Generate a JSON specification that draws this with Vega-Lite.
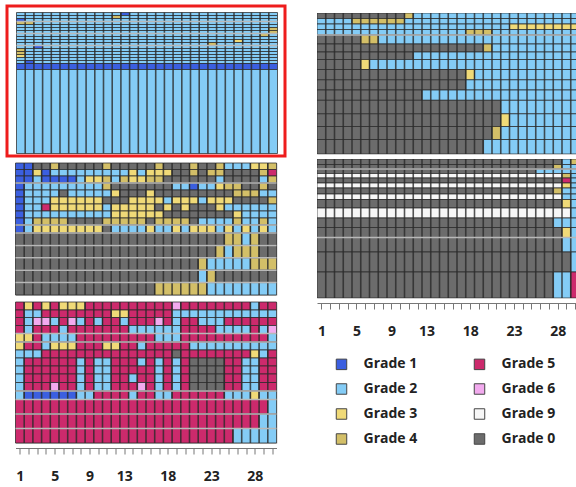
{
  "$schema": "https://vega.github.io/schema/vega-lite/v6.json",
  "background": "white",
  "padding": {"left": 5, "top": 4, "right": 0, "bottom": 0},
  "spacing": 29,
  "datasets": {
    "A": [
      {"y0":0,"y1":3,"x0":0,"x1":12,"g":2},{"y0":0,"y1":3,"x0":12,"x1":13,"g":1},{"y0":0,"y1":3,"x0":13,"x1":30,"g":2},
      {"y0":3,"y1":6,"x0":0,"x1":11,"g":2},{"y0":3,"y1":6,"x0":11,"x1":12,"g":4},{"y0":3,"y1":6,"x0":12,"x1":30,"g":2},
      {"y0":6,"y1":9,"x0":0,"x1":1,"g":1},{"y0":6,"y1":9,"x0":1,"x1":30,"g":2},
      {"y0":9,"y1":12,"x0":0,"x1":2,"g":4},{"y0":9,"y1":12,"x0":2,"x1":30,"g":2},
      {"y0":12,"y1":15,"x0":0,"x1":30,"g":2},
      {"y0":15,"y1":18,"x0":0,"x1":29,"g":2},{"y0":15,"y1":18,"x0":29,"x1":30,"g":4},
      {"y0":18,"y1":21,"x0":0,"x1":29,"g":2},{"y0":18,"y1":21,"x0":29,"x1":30,"g":4},
      {"y0":21,"y1":24,"x0":0,"x1":28,"g":2},{"y0":21,"y1":24,"x0":28,"x1":29,"g":4},{"y0":21,"y1":24,"x0":29,"x1":30,"g":2},
      {"y0":24,"y1":27,"x0":0,"x1":30,"g":2},
      {"y0":27,"y1":30,"x0":0,"x1":25,"g":2},{"y0":27,"y1":30,"x0":25,"x1":26,"g":3},{"y0":27,"y1":30,"x0":26,"x1":30,"g":2},
      {"y0":30,"y1":33,"x0":0,"x1":22,"g":2},{"y0":30,"y1":33,"x0":22,"x1":23,"g":4},{"y0":30,"y1":33,"x0":23,"x1":30,"g":2},
      {"y0":33,"y1":36,"x0":0,"x1":2,"g":2},{"y0":33,"y1":36,"x0":2,"x1":3,"g":1},{"y0":33,"y1":36,"x0":3,"x1":30,"g":2},
      {"y0":36,"y1":39,"x0":0,"x1":1,"g":4},{"y0":36,"y1":39,"x0":1,"x1":30,"g":2},
      {"y0":39,"y1":42,"x0":0,"x1":1,"g":4},{"y0":39,"y1":42,"x0":1,"x1":30,"g":2},
      {"y0":42,"y1":45,"x0":0,"x1":1,"g":3},{"y0":42,"y1":45,"x0":1,"x1":30,"g":2},
      {"y0":45,"y1":48,"x0":0,"x1":30,"g":2},
      {"y0":48,"y1":51,"x0":0,"x1":1,"g":2},{"y0":48,"y1":51,"x0":1,"x1":2,"g":1},{"y0":48,"y1":51,"x0":2,"x1":30,"g":2},
      {"y0":51,"y1":57,"x0":0,"x1":30,"g":1},
      {"y0":57,"y1":141,"x0":0,"x1":30,"g":2}
    ],
    "B": [
      {"y0":0,"y1":6.5,"x0":0,"x1":2,"g":1},{"y0":0,"y1":6.5,"x0":2,"x1":4,"g":0},{"y0":0,"y1":6.5,"x0":4,"x1":5,"g":4},{"y0":0,"y1":6.5,"x0":5,"x1":10,"g":0},{"y0":0,"y1":6.5,"x0":10,"x1":11,"g":4},{"y0":0,"y1":6.5,"x0":11,"x1":16,"g":0},{"y0":0,"y1":6.5,"x0":16,"x1":17,"g":4},{"y0":0,"y1":6.5,"x0":17,"x1":20,"g":0},{"y0":0,"y1":6.5,"x0":20,"x1":21,"g":4},{"y0":0,"y1":6.5,"x0":21,"x1":23,"g":0},{"y0":0,"y1":6.5,"x0":23,"x1":24,"g":4},{"y0":0,"y1":6.5,"x0":24,"x1":27,"g":2},{"y0":0,"y1":6.5,"x0":27,"x1":29,"g":3},{"y0":0,"y1":6.5,"x0":29,"x1":30,"g":4},
      {"y0":6.5,"y1":13,"x0":0,"x1":2,"g":1},{"y0":6.5,"y1":13,"x0":2,"x1":3,"g":3},{"y0":6.5,"y1":13,"x0":3,"x1":4,"g":1},{"y0":6.5,"y1":13,"x0":4,"x1":13,"g":2},{"y0":6.5,"y1":13,"x0":13,"x1":14,"g":3},{"y0":6.5,"y1":13,"x0":14,"x1":15,"g":2},{"y0":6.5,"y1":13,"x0":15,"x1":18,"g":3},{"y0":6.5,"y1":13,"x0":18,"x1":20,"g":0},{"y0":6.5,"y1":13,"x0":20,"x1":21,"g":4},{"y0":6.5,"y1":13,"x0":21,"x1":22,"g":0},{"y0":6.5,"y1":13,"x0":22,"x1":24,"g":4},{"y0":6.5,"y1":13,"x0":24,"x1":28,"g":0},{"y0":6.5,"y1":13,"x0":28,"x1":29,"g":4},{"y0":6.5,"y1":13,"x0":29,"x1":30,"g":5},
      {"y0":13,"y1":20,"x0":0,"x1":2,"g":1},{"y0":13,"y1":20,"x0":2,"x1":3,"g":2},{"y0":13,"y1":20,"x0":3,"x1":7,"g":1},{"y0":13,"y1":20,"x0":7,"x1":8,"g":2},{"y0":13,"y1":20,"x0":8,"x1":10,"g":3},{"y0":13,"y1":20,"x0":10,"x1":11,"g":4},{"y0":13,"y1":20,"x0":11,"x1":12,"g":2},{"y0":13,"y1":20,"x0":12,"x1":13,"g":4},{"y0":13,"y1":20,"x0":13,"x1":15,"g":3},{"y0":13,"y1":20,"x0":15,"x1":17,"g":4},{"y0":13,"y1":20,"x0":17,"x1":23,"g":0},{"y0":13,"y1":20,"x0":23,"x1":24,"g":2},{"y0":13,"y1":20,"x0":24,"x1":28,"g":0},{"y0":13,"y1":20,"x0":28,"x1":29,"g":2},{"y0":13,"y1":20,"x0":29,"x1":30,"g":4},
      {"y0":20,"y1":27,"x0":0,"x1":1,"g":1},{"y0":20,"y1":27,"x0":1,"x1":10,"g":2},{"y0":20,"y1":27,"x0":10,"x1":11,"g":4},{"y0":20,"y1":27,"x0":11,"x1":18,"g":0},{"y0":20,"y1":27,"x0":18,"x1":20,"g":2},{"y0":20,"y1":27,"x0":20,"x1":21,"g":1},{"y0":20,"y1":27,"x0":21,"x1":23,"g":2},{"y0":20,"y1":27,"x0":23,"x1":24,"g":3},{"y0":20,"y1":27,"x0":24,"x1":26,"g":4},{"y0":20,"y1":27,"x0":26,"x1":28,"g":0},{"y0":20,"y1":27,"x0":28,"x1":29,"g":4},{"y0":20,"y1":27,"x0":29,"x1":30,"g":0},
      {"y0":27,"y1":34,"x0":0,"x1":1,"g":1},{"y0":27,"y1":34,"x0":1,"x1":5,"g":2},{"y0":27,"y1":34,"x0":5,"x1":6,"g":0},{"y0":27,"y1":34,"x0":6,"x1":11,"g":2},{"y0":27,"y1":34,"x0":11,"x1":12,"g":3},{"y0":27,"y1":34,"x0":12,"x1":15,"g":0},{"y0":27,"y1":34,"x0":15,"x1":16,"g":3},{"y0":27,"y1":34,"x0":16,"x1":25,"g":0},{"y0":27,"y1":34,"x0":25,"x1":28,"g":4},{"y0":27,"y1":34,"x0":28,"x1":30,"g":2},
      {"y0":34,"y1":41,"x0":0,"x1":1,"g":1},{"y0":34,"y1":41,"x0":1,"x1":4,"g":2},{"y0":34,"y1":41,"x0":4,"x1":10,"g":3},{"y0":34,"y1":41,"x0":10,"x1":13,"g":0},{"y0":34,"y1":41,"x0":13,"x1":17,"g":3},{"y0":34,"y1":41,"x0":17,"x1":18,"g":2},{"y0":34,"y1":41,"x0":18,"x1":21,"g":3},{"y0":34,"y1":41,"x0":21,"x1":22,"g":2},{"y0":34,"y1":41,"x0":22,"x1":25,"g":3},{"y0":34,"y1":41,"x0":25,"x1":29,"g":0},{"y0":34,"y1":41,"x0":29,"x1":30,"g":4},
      {"y0":41,"y1":48,"x0":0,"x1":1,"g":1},{"y0":41,"y1":48,"x0":1,"x1":3,"g":2},{"y0":41,"y1":48,"x0":3,"x1":4,"g":5},{"y0":41,"y1":48,"x0":4,"x1":10,"g":3},{"y0":41,"y1":48,"x0":10,"x1":11,"g":2},{"y0":41,"y1":48,"x0":11,"x1":16,"g":3},{"y0":41,"y1":48,"x0":16,"x1":17,"g":0},{"y0":41,"y1":48,"x0":17,"x1":18,"g":3},{"y0":41,"y1":48,"x0":18,"x1":19,"g":0},{"y0":41,"y1":48,"x0":19,"x1":20,"g":3},{"y0":41,"y1":48,"x0":20,"x1":23,"g":0},{"y0":41,"y1":48,"x0":23,"x1":24,"g":3},{"y0":41,"y1":48,"x0":24,"x1":30,"g":2},
      {"y0":48,"y1":55,"x0":0,"x1":1,"g":1},{"y0":48,"y1":55,"x0":1,"x1":11,"g":2},{"y0":48,"y1":55,"x0":11,"x1":17,"g":3},{"y0":48,"y1":55,"x0":17,"x1":25,"g":0},{"y0":48,"y1":55,"x0":25,"x1":26,"g":3},{"y0":48,"y1":55,"x0":26,"x1":30,"g":2},
      {"y0":55,"y1":62,"x0":0,"x1":1,"g":1},{"y0":55,"y1":62,"x0":1,"x1":2,"g":2},{"y0":55,"y1":62,"x0":2,"x1":6,"g":4},{"y0":55,"y1":62,"x0":6,"x1":10,"g":0},{"y0":55,"y1":62,"x0":10,"x1":15,"g":4},{"y0":55,"y1":62,"x0":15,"x1":16,"g":0},{"y0":55,"y1":62,"x0":16,"x1":20,"g":4},{"y0":55,"y1":62,"x0":20,"x1":21,"g":0},{"y0":55,"y1":62,"x0":21,"x1":25,"g":2},{"y0":55,"y1":62,"x0":25,"x1":26,"g":4},{"y0":55,"y1":62,"x0":26,"x1":28,"g":2},{"y0":55,"y1":62,"x0":28,"x1":29,"g":4},{"y0":55,"y1":62,"x0":29,"x1":30,"g":2},
      {"y0":62,"y1":70,"x0":0,"x1":1,"g":1},{"y0":62,"y1":70,"x0":1,"x1":2,"g":2},{"y0":62,"y1":70,"x0":2,"x1":10,"g":3},{"y0":62,"y1":70,"x0":10,"x1":11,"g":0},{"y0":62,"y1":70,"x0":11,"x1":15,"g":2},{"y0":62,"y1":70,"x0":15,"x1":16,"g":3},{"y0":62,"y1":70,"x0":16,"x1":18,"g":2},{"y0":62,"y1":70,"x0":18,"x1":19,"g":3},{"y0":62,"y1":70,"x0":19,"x1":20,"g":2},{"y0":62,"y1":70,"x0":20,"x1":23,"g":3},{"y0":62,"y1":70,"x0":23,"x1":24,"g":2},{"y0":62,"y1":70,"x0":24,"x1":25,"g":3},{"y0":62,"y1":70,"x0":25,"x1":26,"g":2},{"y0":62,"y1":70,"x0":26,"x1":27,"g":3},{"y0":62,"y1":70,"x0":27,"x1":28,"g":2},{"y0":62,"y1":70,"x0":28,"x1":29,"g":3},{"y0":62,"y1":70,"x0":29,"x1":30,"g":2},
      {"y0":70,"y1":82.4,"x0":0,"x1":24,"g":0},{"y0":70,"y1":82.4,"x0":24,"x1":26,"g":4},{"y0":70,"y1":82.4,"x0":26,"x1":27,"g":2},{"y0":70,"y1":82.4,"x0":27,"x1":28,"g":4},{"y0":70,"y1":82.4,"x0":28,"x1":30,"g":0},
      {"y0":82.4,"y1":94.8,"x0":0,"x1":23,"g":0},{"y0":82.4,"y1":94.8,"x0":23,"x1":24,"g":4},{"y0":82.4,"y1":94.8,"x0":24,"x1":25,"g":2},{"y0":82.4,"y1":94.8,"x0":25,"x1":28,"g":4},{"y0":82.4,"y1":94.8,"x0":28,"x1":30,"g":0},
      {"y0":94.8,"y1":107.2,"x0":0,"x1":21,"g":0},{"y0":94.8,"y1":107.2,"x0":21,"x1":22,"g":4},{"y0":94.8,"y1":107.2,"x0":22,"x1":27,"g":2},{"y0":94.8,"y1":107.2,"x0":27,"x1":30,"g":4},
      {"y0":107.2,"y1":119.6,"x0":0,"x1":21,"g":0},{"y0":107.2,"y1":119.6,"x0":21,"x1":22,"g":2},{"y0":107.2,"y1":119.6,"x0":22,"x1":23,"g":4},{"y0":107.2,"y1":119.6,"x0":23,"x1":30,"g":0},
      {"y0":119.6,"y1":132,"x0":0,"x1":16,"g":0},{"y0":119.6,"y1":132,"x0":16,"x1":22,"g":4},{"y0":119.6,"y1":132,"x0":22,"x1":30,"g":2}
    ],
    "C": [
      {"y0":0,"y1":8,"x0":0,"x1":1,"g":5},{"y0":0,"y1":8,"x0":1,"x1":2,"g":3},{"y0":0,"y1":8,"x0":2,"x1":3,"g":5},{"y0":0,"y1":8,"x0":3,"x1":4,"g":3},{"y0":0,"y1":8,"x0":4,"x1":5,"g":5},{"y0":0,"y1":8,"x0":5,"x1":8,"g":3},{"y0":0,"y1":8,"x0":8,"x1":18,"g":5},{"y0":0,"y1":8,"x0":18,"x1":19,"g":6},{"y0":0,"y1":8,"x0":19,"x1":27,"g":5},{"y0":0,"y1":8,"x0":27,"x1":28,"g":2},{"y0":0,"y1":8,"x0":28,"x1":30,"g":5},
      {"y0":8,"y1":15.5,"x0":0,"x1":1,"g":5},{"y0":8,"y1":15.5,"x0":1,"x1":3,"g":2},{"y0":8,"y1":15.5,"x0":3,"x1":11,"g":5},{"y0":8,"y1":15.5,"x0":11,"x1":13,"g":3},{"y0":8,"y1":15.5,"x0":13,"x1":18,"g":5},{"y0":8,"y1":15.5,"x0":18,"x1":30,"g":2},
      {"y0":15.5,"y1":23.5,"x0":0,"x1":1,"g":5},{"y0":15.5,"y1":23.5,"x0":1,"x1":2,"g":2},{"y0":15.5,"y1":23.5,"x0":2,"x1":4,"g":6},{"y0":15.5,"y1":23.5,"x0":4,"x1":5,"g":2},{"y0":15.5,"y1":23.5,"x0":5,"x1":6,"g":5},{"y0":15.5,"y1":23.5,"x0":6,"x1":7,"g":6},{"y0":15.5,"y1":23.5,"x0":7,"x1":8,"g":2},{"y0":15.5,"y1":23.5,"x0":8,"x1":9,"g":5},{"y0":15.5,"y1":23.5,"x0":9,"x1":10,"g":2},{"y0":15.5,"y1":23.5,"x0":10,"x1":12,"g":5},{"y0":15.5,"y1":23.5,"x0":12,"x1":13,"g":2},{"y0":15.5,"y1":23.5,"x0":13,"x1":16,"g":5},{"y0":15.5,"y1":23.5,"x0":16,"x1":17,"g":6},{"y0":15.5,"y1":23.5,"x0":17,"x1":18,"g":5},{"y0":15.5,"y1":23.5,"x0":18,"x1":19,"g":2},{"y0":15.5,"y1":23.5,"x0":19,"x1":21,"g":5},{"y0":15.5,"y1":23.5,"x0":21,"x1":24,"g":2},{"y0":15.5,"y1":23.5,"x0":24,"x1":30,"g":5},
      {"y0":23.5,"y1":31.5,"x0":0,"x1":1,"g":5},{"y0":23.5,"y1":31.5,"x0":1,"x1":2,"g":2},{"y0":23.5,"y1":31.5,"x0":2,"x1":5,"g":5},{"y0":23.5,"y1":31.5,"x0":5,"x1":6,"g":2},{"y0":23.5,"y1":31.5,"x0":6,"x1":13,"g":5},{"y0":23.5,"y1":31.5,"x0":13,"x1":19,"g":2},{"y0":23.5,"y1":31.5,"x0":19,"x1":23,"g":5},{"y0":23.5,"y1":31.5,"x0":23,"x1":27,"g":2},{"y0":23.5,"y1":31.5,"x0":27,"x1":28,"g":5},{"y0":23.5,"y1":31.5,"x0":28,"x1":29,"g":2},{"y0":23.5,"y1":31.5,"x0":29,"x1":30,"g":6},
      {"y0":31.5,"y1":40,"x0":0,"x1":2,"g":3},{"y0":31.5,"y1":40,"x0":2,"x1":3,"g":5},{"y0":31.5,"y1":40,"x0":3,"x1":7,"g":2},{"y0":31.5,"y1":40,"x0":7,"x1":16,"g":5},{"y0":31.5,"y1":40,"x0":16,"x1":19,"g":2},{"y0":31.5,"y1":40,"x0":19,"x1":29,"g":5},{"y0":31.5,"y1":40,"x0":29,"x1":30,"g":2},
      {"y0":40,"y1":48,"x0":0,"x1":1,"g":3},{"y0":40,"y1":48,"x0":1,"x1":3,"g":5},{"y0":40,"y1":48,"x0":3,"x1":4,"g":2},{"y0":40,"y1":48,"x0":4,"x1":7,"g":3},{"y0":40,"y1":48,"x0":7,"x1":10,"g":5},{"y0":40,"y1":48,"x0":10,"x1":12,"g":3},{"y0":40,"y1":48,"x0":12,"x1":14,"g":5},{"y0":40,"y1":48,"x0":14,"x1":15,"g":2},{"y0":40,"y1":48,"x0":15,"x1":20,"g":5},{"y0":40,"y1":48,"x0":20,"x1":30,"g":2},
      {"y0":48,"y1":56,"x0":0,"x1":3,"g":2},{"y0":48,"y1":56,"x0":3,"x1":18,"g":5},{"y0":48,"y1":56,"x0":18,"x1":19,"g":0},{"y0":48,"y1":56,"x0":19,"x1":27,"g":5},{"y0":48,"y1":56,"x0":27,"x1":28,"g":3},{"y0":48,"y1":56,"x0":28,"x1":29,"g":2},{"y0":48,"y1":56,"x0":29,"x1":30,"g":5},
      {"y0":56,"y1":64,"x0":0,"x1":1,"g":2},{"y0":56,"y1":64,"x0":1,"x1":7,"g":5},{"y0":56,"y1":64,"x0":7,"x1":8,"g":2},{"y0":56,"y1":64,"x0":8,"x1":9,"g":5},{"y0":56,"y1":64,"x0":9,"x1":11,"g":2},{"y0":56,"y1":64,"x0":11,"x1":14,"g":5},{"y0":56,"y1":64,"x0":14,"x1":15,"g":2},{"y0":56,"y1":64,"x0":15,"x1":16,"g":5},{"y0":56,"y1":64,"x0":16,"x1":17,"g":2},{"y0":56,"y1":64,"x0":17,"x1":18,"g":5},{"y0":56,"y1":64,"x0":18,"x1":19,"g":2},{"y0":56,"y1":64,"x0":19,"x1":20,"g":5},{"y0":56,"y1":64,"x0":20,"x1":24,"g":0},{"y0":56,"y1":64,"x0":24,"x1":26,"g":5},{"y0":56,"y1":64,"x0":26,"x1":28,"g":2},{"y0":56,"y1":64,"x0":28,"x1":30,"g":5},
      {"y0":64,"y1":72,"x0":0,"x1":1,"g":2},{"y0":64,"y1":72,"x0":1,"x1":7,"g":5},{"y0":64,"y1":72,"x0":7,"x1":8,"g":2},{"y0":64,"y1":72,"x0":8,"x1":9,"g":5},{"y0":64,"y1":72,"x0":9,"x1":11,"g":2},{"y0":64,"y1":72,"x0":11,"x1":16,"g":5},{"y0":64,"y1":72,"x0":16,"x1":17,"g":2},{"y0":64,"y1":72,"x0":17,"x1":18,"g":5},{"y0":64,"y1":72,"x0":18,"x1":19,"g":2},{"y0":64,"y1":72,"x0":19,"x1":20,"g":5},{"y0":64,"y1":72,"x0":20,"x1":24,"g":0},{"y0":64,"y1":72,"x0":24,"x1":26,"g":5},{"y0":64,"y1":72,"x0":26,"x1":28,"g":2},{"y0":64,"y1":72,"x0":28,"x1":30,"g":5},
      {"y0":72,"y1":80.5,"x0":0,"x1":1,"g":2},{"y0":72,"y1":80.5,"x0":1,"x1":7,"g":5},{"y0":72,"y1":80.5,"x0":7,"x1":8,"g":2},{"y0":72,"y1":80.5,"x0":8,"x1":9,"g":5},{"y0":72,"y1":80.5,"x0":9,"x1":11,"g":2},{"y0":72,"y1":80.5,"x0":11,"x1":13,"g":5},{"y0":72,"y1":80.5,"x0":13,"x1":14,"g":2},{"y0":72,"y1":80.5,"x0":14,"x1":16,"g":5},{"y0":72,"y1":80.5,"x0":16,"x1":17,"g":2},{"y0":72,"y1":80.5,"x0":17,"x1":18,"g":5},{"y0":72,"y1":80.5,"x0":18,"x1":19,"g":2},{"y0":72,"y1":80.5,"x0":19,"x1":20,"g":5},{"y0":72,"y1":80.5,"x0":20,"x1":24,"g":0},{"y0":72,"y1":80.5,"x0":24,"x1":26,"g":5},{"y0":72,"y1":80.5,"x0":26,"x1":28,"g":2},{"y0":72,"y1":80.5,"x0":28,"x1":30,"g":5},
      {"y0":80.5,"y1":89,"x0":0,"x1":1,"g":2},{"y0":80.5,"y1":89,"x0":1,"x1":4,"g":5},{"y0":80.5,"y1":89,"x0":4,"x1":5,"g":6},{"y0":80.5,"y1":89,"x0":5,"x1":7,"g":5},{"y0":80.5,"y1":89,"x0":7,"x1":8,"g":2},{"y0":80.5,"y1":89,"x0":8,"x1":9,"g":5},{"y0":80.5,"y1":89,"x0":9,"x1":11,"g":2},{"y0":80.5,"y1":89,"x0":11,"x1":14,"g":5},{"y0":80.5,"y1":89,"x0":14,"x1":15,"g":6},{"y0":80.5,"y1":89,"x0":15,"x1":16,"g":5},{"y0":80.5,"y1":89,"x0":16,"x1":17,"g":2},{"y0":80.5,"y1":89,"x0":17,"x1":18,"g":5},{"y0":80.5,"y1":89,"x0":18,"x1":19,"g":2},{"y0":80.5,"y1":89,"x0":19,"x1":20,"g":5},{"y0":80.5,"y1":89,"x0":20,"x1":24,"g":0},{"y0":80.5,"y1":89,"x0":24,"x1":26,"g":5},{"y0":80.5,"y1":89,"x0":26,"x1":28,"g":2},{"y0":80.5,"y1":89,"x0":28,"x1":30,"g":5},
      {"y0":89,"y1":97.5,"x0":0,"x1":1,"g":2},{"y0":89,"y1":97.5,"x0":1,"x1":7,"g":1},{"y0":89,"y1":97.5,"x0":7,"x1":9,"g":2},{"y0":89,"y1":97.5,"x0":9,"x1":13,"g":5},{"y0":89,"y1":97.5,"x0":13,"x1":14,"g":2},{"y0":89,"y1":97.5,"x0":14,"x1":16,"g":5},{"y0":89,"y1":97.5,"x0":16,"x1":18,"g":2},{"y0":89,"y1":97.5,"x0":18,"x1":24,"g":5},{"y0":89,"y1":97.5,"x0":24,"x1":27,"g":2},{"y0":89,"y1":97.5,"x0":27,"x1":28,"g":3},{"y0":89,"y1":97.5,"x0":28,"x1":30,"g":2},
      {"y0":97.5,"y1":112,"x0":0,"x1":29,"g":5},{"y0":97.5,"y1":112,"x0":29,"x1":30,"g":2},
      {"y0":112,"y1":126.5,"x0":0,"x1":28,"g":5},{"y0":112,"y1":126.5,"x0":28,"x1":30,"g":2},
      {"y0":126.5,"y1":141,"x0":0,"x1":25,"g":5},{"y0":126.5,"y1":141,"x0":25,"x1":30,"g":2}
    ],
    "D": [
      {"y0":0,"y1":5.5,"x0":0,"x1":10,"g":0},{"y0":0,"y1":5.5,"x0":10,"x1":11,"g":4},{"y0":0,"y1":5.5,"x0":11,"x1":30,"g":2},
      {"y0":5.5,"y1":11,"x0":0,"x1":4,"g":2},{"y0":5.5,"y1":11,"x0":4,"x1":10,"g":4},{"y0":5.5,"y1":11,"x0":10,"x1":30,"g":2},
      {"y0":11,"y1":16.5,"x0":0,"x1":22,"g":2},{"y0":11,"y1":16.5,"x0":22,"x1":30,"g":3},
      {"y0":16.5,"y1":22,"x0":0,"x1":17,"g":2},{"y0":16.5,"y1":22,"x0":17,"x1":20,"g":4},{"y0":16.5,"y1":22,"x0":20,"x1":30,"g":2},
      {"y0":22,"y1":31,"x0":0,"x1":5,"g":0},{"y0":22,"y1":31,"x0":5,"x1":7,"g":4},{"y0":22,"y1":31,"x0":7,"x1":30,"g":2},
      {"y0":31,"y1":39,"x0":0,"x1":19,"g":0},{"y0":31,"y1":39,"x0":19,"x1":20,"g":4},{"y0":31,"y1":39,"x0":20,"x1":30,"g":2},
      {"y0":39,"y1":46.5,"x0":0,"x1":11,"g":0},{"y0":39,"y1":46.5,"x0":11,"x1":30,"g":2},
      {"y0":46.5,"y1":56.5,"x0":0,"x1":5,"g":0},{"y0":46.5,"y1":56.5,"x0":5,"x1":6,"g":3},{"y0":46.5,"y1":56.5,"x0":6,"x1":30,"g":2},
      {"y0":56.5,"y1":66.8,"x0":0,"x1":17,"g":0},{"y0":56.5,"y1":66.8,"x0":17,"x1":18,"g":3},{"y0":56.5,"y1":66.8,"x0":18,"x1":30,"g":2},
      {"y0":66.8,"y1":77,"x0":0,"x1":17,"g":0},{"y0":66.8,"y1":77,"x0":17,"x1":30,"g":2},
      {"y0":77,"y1":87.3,"x0":0,"x1":12,"g":0},{"y0":77,"y1":87.3,"x0":12,"x1":30,"g":2},
      {"y0":87.3,"y1":100.8,"x0":0,"x1":21,"g":0},{"y0":87.3,"y1":100.8,"x0":21,"x1":30,"g":2},
      {"y0":100.8,"y1":113.5,"x0":0,"x1":21,"g":0},{"y0":100.8,"y1":113.5,"x0":21,"x1":22,"g":3},{"y0":100.8,"y1":113.5,"x0":22,"x1":30,"g":2},
      {"y0":113.5,"y1":126.5,"x0":0,"x1":20,"g":0},{"y0":113.5,"y1":126.5,"x0":20,"x1":21,"g":4},{"y0":113.5,"y1":126.5,"x0":21,"x1":30,"g":2},
      {"y0":126.5,"y1":141,"x0":0,"x1":19,"g":0},{"y0":126.5,"y1":141,"x0":19,"x1":30,"g":2}
    ],
    "E": [
      {"y0":0,"y1":5.5,"x0":0,"x1":28,"g":0},{"y0":0,"y1":5.5,"x0":28,"x1":29,"g":2},{"y0":0,"y1":5.5,"x0":29,"x1":30,"g":4},
      {"y0":5.5,"y1":10,"x0":0,"x1":27,"g":0},{"y0":5.5,"y1":10,"x0":27,"x1":28,"g":4},{"y0":5.5,"y1":10,"x0":28,"x1":30,"g":2},
      {"y0":10,"y1":14.5,"x0":0,"x1":25,"g":0},{"y0":10,"y1":14.5,"x0":25,"x1":30,"g":2},
      {"y0":14.5,"y1":19,"x0":0,"x1":28,"g":9},{"y0":14.5,"y1":19,"x0":28,"x1":29,"g":4},{"y0":14.5,"y1":19,"x0":29,"x1":30,"g":2},
      {"y0":19,"y1":24,"x0":0,"x1":28,"g":0},{"y0":19,"y1":24,"x0":28,"x1":29,"g":5},{"y0":19,"y1":24,"x0":29,"x1":30,"g":2},
      {"y0":24,"y1":29,"x0":0,"x1":28,"g":9},{"y0":24,"y1":29,"x0":28,"x1":29,"g":3},{"y0":24,"y1":29,"x0":29,"x1":30,"g":2},
      {"y0":29,"y1":35,"x0":0,"x1":27,"g":0},{"y0":29,"y1":35,"x0":27,"x1":28,"g":4},{"y0":29,"y1":35,"x0":28,"x1":30,"g":2},
      {"y0":35,"y1":40.5,"x0":0,"x1":28,"g":9},{"y0":35,"y1":40.5,"x0":28,"x1":30,"g":2},
      {"y0":40.5,"y1":49,"x0":0,"x1":28,"g":0},{"y0":40.5,"y1":49,"x0":28,"x1":29,"g":3},{"y0":40.5,"y1":49,"x0":29,"x1":30,"g":2},
      {"y0":49,"y1":59,"x0":0,"x1":29,"g":9},{"y0":49,"y1":59,"x0":29,"x1":30,"g":2},
      {"y0":59,"y1":68.5,"x0":0,"x1":27,"g":0},{"y0":59,"y1":68.5,"x0":27,"x1":30,"g":2},
      {"y0":68.5,"y1":78.5,"x0":0,"x1":28,"g":0},{"y0":68.5,"y1":78.5,"x0":28,"x1":29,"g":3},{"y0":68.5,"y1":78.5,"x0":29,"x1":30,"g":2},
      {"y0":78.5,"y1":93,"x0":0,"x1":28,"g":0},{"y0":78.5,"y1":93,"x0":28,"x1":30,"g":2},
      {"y0":93,"y1":113,"x0":0,"x1":29,"g":0},{"y0":93,"y1":113,"x0":29,"x1":30,"g":2},
      {"y0":113,"y1":139,"x0":0,"x1":27,"g":0},{"y0":113,"y1":139,"x0":27,"x1":29,"g":2},{"y0":113,"y1":139,"x0":29,"x1":30,"g":5}
    ],
    "sep": [
      {"p":"A","y":9},{"p":"A","y":21},{"p":"A","y":33},
      {"p":"B","y":20},{"p":"B","y":62},{"p":"B","y":70},{"p":"B","y":82.4},{"p":"B","y":94.8},{"p":"B","y":107.2},{"p":"B","y":119.6},
      {"p":"C","y":31.5},{"p":"C","y":40},{"p":"C","y":89},{"p":"C","y":97.5},{"p":"C","y":112},{"p":"C","y":126.5},
      {"p":"D","y":22},
      {"p":"E","y":10},{"p":"E","y":78.5}
    ],
    "cols": [
      {"x":1},{"x":2},{"x":3},{"x":4},{"x":5},{"x":6},{"x":7},{"x":8},{"x":9},{"x":10},
      {"x":11},{"x":12},{"x":13},{"x":14},{"x":15},{"x":16},{"x":17},{"x":18},{"x":19},{"x":20},
      {"x":21},{"x":22},{"x":23},{"x":24},{"x":25},{"x":26},{"x":27},{"x":28},{"x":29}
    ]
  },
  "hconcat": [
    {
      "center": true,
      "spacing": 7,
      "bounds": "flush",
      "vconcat": [
        {
          "width": 278, "height": 150,
          "view": {"stroke": "#ee1c1c", "strokeWidth": 3},
          "layer": [
            {"data": {"name": "A"},
             "mark": {"type": "rect", "stroke": "#2a2a2a", "strokeWidth": 1, "strokeOpacity": 0.75},
             "encoding": {
               "x": {"field": "x0", "type": "quantitative", "scale": {"domain": [-1.092, 30.862], "nice": false, "zero": false}, "axis": null},
               "x2": {"field": "x1"},
               "y": {"field": "y0", "type": "quantitative", "scale": {"domain": [-6.5, 143.5], "reverse": true, "nice": false, "zero": false}, "axis": null},
               "y2": {"field": "y1"},
               "color": {"field": "g", "type": "nominal",
                 "scale": {"domain": [1, 2, 3, 4, 5, 6, 9, 0], "range": ["#3b5fe0", "#84ccf6", "#f0da78", "#d3bf68", "#cc2a6c", "#f2aaee", "#f7f7f7", "#6c6c6c"]},
                 "legend": {"title": null, "labelExpr": "'Grade ' + datum.label"}}
             }},
            {"data": {"name": "cols"},
             "mark": {"type": "rule", "color": "#2a2a2a", "strokeWidth": 1.6, "opacity": 0.8},
             "encoding": {
               "x": {"field": "x", "type": "quantitative", "axis": null},
               "y": {"datum": 0, "type": "quantitative", "axis": null},
               "y2": {"datum": 141}
             }},
            {"data": {"name": "sep"}, "transform": [{"filter": "datum.p === 'A'"}],
             "mark": {"type": "rule", "color": "#b8b8b8", "strokeWidth": 1.5},
             "encoding": {
               "y": {"field": "y", "type": "quantitative", "axis": null},
               "x": {"datum": 0, "type": "quantitative", "axis": null},
               "x2": {"datum": 30}
             }}
          ]
        },
        {
          "width": 261, "height": 132,
          "view": {"stroke": "#cccccc", "strokeWidth": 1},
          "layer": [
            {"data": {"name": "B"},
             "mark": {"type": "rect", "stroke": "#2a2a2a", "strokeWidth": 1, "strokeOpacity": 0.75},
             "encoding": {
               "x": {"field": "x0", "type": "quantitative", "scale": {"domain": [0, 30], "nice": false, "zero": false}, "axis": null},
               "x2": {"field": "x1"},
               "y": {"field": "y0", "type": "quantitative", "scale": {"domain": [0, 132], "reverse": true, "nice": false, "zero": false}, "axis": null},
               "y2": {"field": "y1"},
               "color": {"field": "g", "type": "nominal",
                 "scale": {"domain": [1, 2, 3, 4, 5, 6, 9, 0], "range": ["#3b5fe0", "#84ccf6", "#f0da78", "#d3bf68", "#cc2a6c", "#f2aaee", "#f7f7f7", "#6c6c6c"]},
                 "legend": {"title": null, "labelExpr": "'Grade ' + datum.label"}}
             }},
            {"data": {"name": "cols"},
             "mark": {"type": "rule", "color": "#2a2a2a", "strokeWidth": 1.6, "opacity": 0.8},
             "encoding": {
               "x": {"field": "x", "type": "quantitative", "axis": null},
               "y": {"datum": 0, "type": "quantitative", "axis": null},
               "y2": {"datum": 132}
             }},
            {"data": {"name": "sep"}, "transform": [{"filter": "datum.p === 'B'"}],
             "mark": {"type": "rule", "color": "#b8b8b8", "strokeWidth": 1.5},
             "encoding": {
               "y": {"field": "y", "type": "quantitative", "axis": null},
               "x": {"datum": 0, "type": "quantitative", "axis": null},
               "x2": {"datum": 30}
             }}
          ]
        },
        {
          "width": 261, "height": 141,
          "view": {"stroke": "#cccccc", "strokeWidth": 1},
          "layer": [
            {"data": {"name": "C"},
             "mark": {"type": "rect", "stroke": "#2a2a2a", "strokeWidth": 1, "strokeOpacity": 0.75},
             "encoding": {
               "x": {"field": "x0", "type": "quantitative", "scale": {"domain": [0, 30], "nice": false, "zero": false},
                 "axis": {"orient": "bottom", "title": null, "grid": false, "offset": 5,
                   "values": [0.5,1.5,2.5,3.5,4.5,5.5,6.5,7.5,8.5,9.5,10.5,11.5,12.5,13.5,14.5,15.5,16.5,17.5,18.5,19.5,20.5,21.5,22.5,23.5,24.5,25.5,26.5,27.5,28.5,29.5],
                   "labelExpr": "indexof([0.5,4.5,8.5,12.5,17.5,22.5,27.5], datum.value) >= 0 ? format(datum.value + 0.5, 'd') : ''",
                   "domainColor": "#777777", "tickColor": "#777777", "tickSize": 6, "tickWidth": 1, "domainWidth": 1,
                   "labelFont": "Open Sans", "labelFontSize": 14, "labelFontWeight": "bold", "labelColor": "#222222",
                   "labelPadding": 15, "labelOverlap": false, "labelFlush": false, "labelBound": false}},
               "x2": {"field": "x1"},
               "y": {"field": "y0", "type": "quantitative", "scale": {"domain": [0, 141], "reverse": true, "nice": false, "zero": false}, "axis": null},
               "y2": {"field": "y1"},
               "color": {"field": "g", "type": "nominal",
                 "scale": {"domain": [1, 2, 3, 4, 5, 6, 9, 0], "range": ["#3b5fe0", "#84ccf6", "#f0da78", "#d3bf68", "#cc2a6c", "#f2aaee", "#f7f7f7", "#6c6c6c"]},
                 "legend": {"title": null, "labelExpr": "'Grade ' + datum.label"}}
             }},
            {"data": {"name": "cols"},
             "mark": {"type": "rule", "color": "#2a2a2a", "strokeWidth": 1.6, "opacity": 0.8},
             "encoding": {
               "x": {"field": "x", "type": "quantitative",
                 "axis": {"orient": "bottom", "title": null, "grid": false, "offset": 5,
                   "values": [0.5,1.5,2.5,3.5,4.5,5.5,6.5,7.5,8.5,9.5,10.5,11.5,12.5,13.5,14.5,15.5,16.5,17.5,18.5,19.5,20.5,21.5,22.5,23.5,24.5,25.5,26.5,27.5,28.5,29.5],
                   "labelExpr": "indexof([0.5,4.5,8.5,12.5,17.5,22.5,27.5], datum.value) >= 0 ? format(datum.value + 0.5, 'd') : ''",
                   "domainColor": "#777777", "tickColor": "#777777", "tickSize": 6, "tickWidth": 1, "domainWidth": 1,
                   "labelFont": "Open Sans", "labelFontSize": 14, "labelFontWeight": "bold", "labelColor": "#222222",
                   "labelPadding": 15, "labelOverlap": false, "labelFlush": false, "labelBound": false}},
               "y": {"datum": 0, "type": "quantitative", "axis": null},
               "y2": {"datum": 141}
             }},
            {"data": {"name": "sep"}, "transform": [{"filter": "datum.p === 'C'"}],
             "mark": {"type": "rule", "color": "#b8b8b8", "strokeWidth": 1.5},
             "encoding": {
               "y": {"field": "y", "type": "quantitative", "axis": null},
               "x": {"datum": 0, "type": "quantitative",
                 "axis": {"orient": "bottom", "title": null, "grid": false, "offset": 5,
                   "values": [0.5,1.5,2.5,3.5,4.5,5.5,6.5,7.5,8.5,9.5,10.5,11.5,12.5,13.5,14.5,15.5,16.5,17.5,18.5,19.5,20.5,21.5,22.5,23.5,24.5,25.5,26.5,27.5,28.5,29.5],
                   "labelExpr": "indexof([0.5,4.5,8.5,12.5,17.5,22.5,27.5], datum.value) >= 0 ? format(datum.value + 0.5, 'd') : ''",
                   "domainColor": "#777777", "tickColor": "#777777", "tickSize": 6, "tickWidth": 1, "domainWidth": 1,
                   "labelFont": "Open Sans", "labelFontSize": 14, "labelFontWeight": "bold", "labelColor": "#222222",
                   "labelPadding": 15, "labelOverlap": false, "labelFlush": false, "labelBound": false}},
               "x2": {"datum": 30}
             }}
          ]
        }
      ]
    },
    {
      "spacing": 5,
      "bounds": "flush",
      "vconcat": [
        {
          "width": 259, "height": 2,
          "view": {"stroke": null},
          "data": {"values": []},
          "mark": "rule",
          "encoding": {}
        },
        {
          "width": 259, "height": 141,
          "view": {"stroke": "#cccccc", "strokeWidth": 1},
          "layer": [
            {"data": {"name": "D"},
             "mark": {"type": "rect", "stroke": "#2a2a2a", "strokeWidth": 1, "strokeOpacity": 0.75, "clip": true},
             "encoding": {
               "x": {"field": "x0", "type": "quantitative", "scale": {"domain": [0, 29.6], "nice": false, "zero": false}, "axis": null},
               "x2": {"field": "x1"},
               "y": {"field": "y0", "type": "quantitative", "scale": {"domain": [0, 141], "reverse": true, "nice": false, "zero": false}, "axis": null},
               "y2": {"field": "y1"},
               "color": {"field": "g", "type": "nominal",
                 "scale": {"domain": [1, 2, 3, 4, 5, 6, 9, 0], "range": ["#3b5fe0", "#84ccf6", "#f0da78", "#d3bf68", "#cc2a6c", "#f2aaee", "#f7f7f7", "#6c6c6c"]},
                 "legend": {"title": null, "labelExpr": "'Grade ' + datum.label"}}
             }},
            {"data": {"name": "cols"},
             "mark": {"type": "rule", "color": "#2a2a2a", "strokeWidth": 1.6, "opacity": 0.8, "clip": true},
             "encoding": {
               "x": {"field": "x", "type": "quantitative", "axis": null},
               "y": {"datum": 0, "type": "quantitative", "axis": null},
               "y2": {"datum": 141}
             }},
            {"data": {"name": "sep"}, "transform": [{"filter": "datum.p === 'D'"}],
             "mark": {"type": "rule", "color": "#b8b8b8", "strokeWidth": 1.5, "clip": true},
             "encoding": {
               "y": {"field": "y", "type": "quantitative", "axis": null},
               "x": {"datum": 0, "type": "quantitative", "axis": null},
               "x2": {"datum": 29.6}
             }}
          ]
        },
        {
          "width": 259, "height": 139,
          "view": {"stroke": "#cccccc", "strokeWidth": 1},
          "layer": [
            {"data": {"name": "E"},
             "mark": {"type": "rect", "stroke": "#2a2a2a", "strokeWidth": 1, "strokeOpacity": 0.75, "clip": true},
             "encoding": {
               "x": {"field": "x0", "type": "quantitative", "scale": {"domain": [0, 29.6], "nice": false, "zero": false},
                 "axis": {"orient": "bottom", "title": null, "grid": false, "offset": 5,
                   "values": [0.5,1.5,2.5,3.5,4.5,5.5,6.5,7.5,8.5,9.5,10.5,11.5,12.5,13.5,14.5,15.5,16.5,17.5,18.5,19.5,20.5,21.5,22.5,23.5,24.5,25.5,26.5,27.5,28.5,29.5],
                   "labelExpr": "indexof([0.5,4.5,8.5,12.5,17.5,22.5,27.5], datum.value) >= 0 ? format(datum.value + 0.5, 'd') : ''",
                   "domainColor": "#777777", "tickColor": "#777777", "tickSize": 6, "tickWidth": 1, "domainWidth": 1,
                   "labelFont": "Open Sans", "labelFontSize": 14, "labelFontWeight": "bold", "labelColor": "#222222",
                   "labelPadding": 15, "labelOverlap": false, "labelFlush": false, "labelBound": false}},
               "x2": {"field": "x1"},
               "y": {"field": "y0", "type": "quantitative", "scale": {"domain": [0, 139], "reverse": true, "nice": false, "zero": false}, "axis": null},
               "y2": {"field": "y1"},
               "color": {"field": "g", "type": "nominal",
                 "scale": {"domain": [1, 2, 3, 4, 5, 6, 9, 0], "range": ["#3b5fe0", "#84ccf6", "#f0da78", "#d3bf68", "#cc2a6c", "#f2aaee", "#f7f7f7", "#6c6c6c"]},
                 "legend": {"title": null, "labelExpr": "'Grade ' + datum.label"}}
             }},
            {"data": {"name": "cols"},
             "mark": {"type": "rule", "color": "#2a2a2a", "strokeWidth": 1.6, "opacity": 0.8, "clip": true},
             "encoding": {
               "x": {"field": "x", "type": "quantitative",
                 "axis": {"orient": "bottom", "title": null, "grid": false, "offset": 5,
                   "values": [0.5,1.5,2.5,3.5,4.5,5.5,6.5,7.5,8.5,9.5,10.5,11.5,12.5,13.5,14.5,15.5,16.5,17.5,18.5,19.5,20.5,21.5,22.5,23.5,24.5,25.5,26.5,27.5,28.5,29.5],
                   "labelExpr": "indexof([0.5,4.5,8.5,12.5,17.5,22.5,27.5], datum.value) >= 0 ? format(datum.value + 0.5, 'd') : ''",
                   "domainColor": "#777777", "tickColor": "#777777", "tickSize": 6, "tickWidth": 1, "domainWidth": 1,
                   "labelFont": "Open Sans", "labelFontSize": 14, "labelFontWeight": "bold", "labelColor": "#222222",
                   "labelPadding": 15, "labelOverlap": false, "labelFlush": false, "labelBound": false}},
               "y": {"datum": 0, "type": "quantitative", "axis": null},
               "y2": {"datum": 139}
             }},
            {"data": {"name": "sep"}, "transform": [{"filter": "datum.p === 'E'"}],
             "mark": {"type": "rule", "color": "#b8b8b8", "strokeWidth": 1.5, "clip": true},
             "encoding": {
               "y": {"field": "y", "type": "quantitative", "axis": null},
               "x": {"datum": 0, "type": "quantitative",
                 "axis": {"orient": "bottom", "title": null, "grid": false, "offset": 5,
                   "values": [0.5,1.5,2.5,3.5,4.5,5.5,6.5,7.5,8.5,9.5,10.5,11.5,12.5,13.5,14.5,15.5,16.5,17.5,18.5,19.5,20.5,21.5,22.5,23.5,24.5,25.5,26.5,27.5,28.5,29.5],
                   "labelExpr": "indexof([0.5,4.5,8.5,12.5,17.5,22.5,27.5], datum.value) >= 0 ? format(datum.value + 0.5, 'd') : ''",
                   "domainColor": "#777777", "tickColor": "#777777", "tickSize": 6, "tickWidth": 1, "domainWidth": 1,
                   "labelFont": "Open Sans", "labelFontSize": 14, "labelFontWeight": "bold", "labelColor": "#222222",
                   "labelPadding": 15, "labelOverlap": false, "labelFlush": false, "labelBound": false}},
               "x2": {"datum": 29.6}
             }}
          ]
        }
      ]
    }
  ],
  "config": {
    "view": {"stroke": null},
    "legend": {
      "orient": "none", "legendX": 327.5, "legendY": 351,
      "columns": 2, "padding": 0, "offset": 0,
      "symbolType": "square", "symbolSize": 110, "symbolStrokeColor": "#444444", "symbolStrokeWidth": 1,
      "labelFont": "Open Sans", "labelFontSize": 14, "labelFontWeight": "bold", "labelColor": "#222222",
      "labelOffset": 15, "columnPadding": 54, "rowPadding": 9
    }
  }
}
